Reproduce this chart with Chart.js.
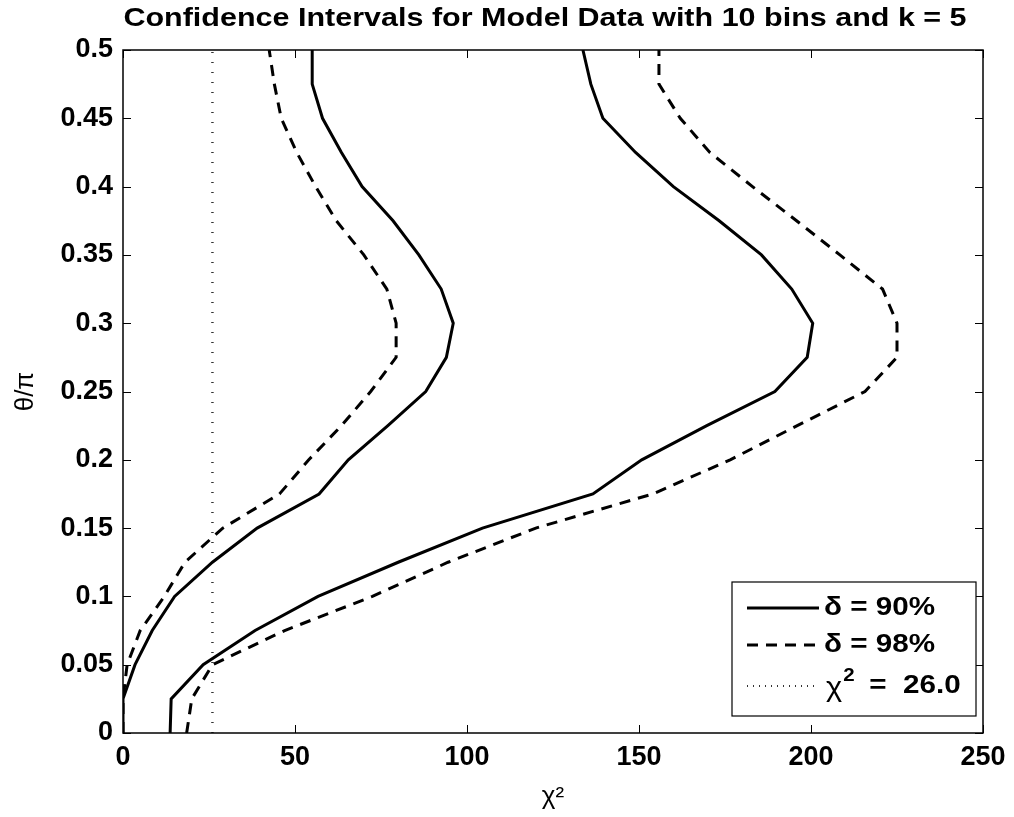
<!DOCTYPE html>
<html>
<head>
<meta charset="utf-8">
<script src="https://cdn.jsdelivr.net/npm/chart.js@4.4.0/dist/chart.umd.min.js"></script>
<style>
  html, body { margin: 0; padding: 0; background: #fff; }
  #wrap { width: 1014px; height: 817px; }
</style>
</head>
<body>
<div id="wrap"><canvas id="myChart" width="1014" height="817"></canvas></div>
<script>
// theta/pi sample points (y) and the chi^2 bounds (x)
var theta = [0, 0.025, 0.05, 0.075, 0.1, 0.125, 0.15, 0.175, 0.2, 0.225, 0.25,
             0.275, 0.3, 0.325, 0.35, 0.375, 0.4, 0.425, 0.45, 0.475, 0.5];
var chi90Low  = [0, 0, 3.5, 8.5, 15, 26, 39, 57, 65.5, 77, 88,
                 94, 96, 92.5, 86, 78.5, 69.5, 63.5, 58, 55, 55];
var chi90High = [13.7, 14, 23.3, 38.4, 56.7, 80, 104.5, 136.6, 150.8, 169.7, 189.5,
                 198.9, 200.5, 194.4, 185.6, 173.3, 160, 149, 139.5, 136, 133.7];
var chi98Low  = [0, 0, 1.2, 5, 12, 18, 29, 45.5, 54, 63.5, 72,
                 79.4, 79.4, 76.7, 70, 62, 56, 50.5, 46, 44, 42.5];
var chi98High = [18.5, 20, 26, 47, 72.5, 94.5, 120, 154, 176.5, 196, 215.7,
                 225, 225, 220.8, 208.4, 195.8, 183, 170.6, 162, 155.8, 155.8];
var chiThreshold = 26.0;
var thetaRange = [0, 0.5];

var titleText = 'Confidence Intervals for Model Data with 10 bins and k = 5';
var legendLabels = ['\u03b4 = 90%', '\u03b4 = 98%', '\u03c7'];
var FONT = '"Liberation Sans", Arial, Helvetica, sans-serif';

function toPoints(xs) {
  return xs.map(function (x, i) { return { x: x, y: theta[i] }; });
}

var solid = { borderColor: '#000', borderWidth: 3, pointRadius: 0, showLine: true, fill: false };
var dashed = { borderColor: '#000', borderWidth: 3, pointRadius: 0, showLine: true, fill: false, borderDash: [11, 8] };

// the figure's text is a bit wider than the font, so stretch it sideways
function wideText(ctx, txt, x, y, sx) {
  ctx.save();
  ctx.translate(x, y);
  ctx.scale(sx, 1);
  ctx.fillText(txt, 0, 0);
  ctx.restore();
  return ctx.measureText(txt).width * sx;
}

// title drawn by hand so it can be stretched like the original
var wideTitle = {
  id: 'wideTitle',
  afterDraw: function (chart) {
    var ctx = chart.ctx;
    ctx.save();
    ctx.fillStyle = '#000';
    ctx.textBaseline = 'middle';
    ctx.font = 'bold 25px ' + FONT;
    var sx = 1.22;
    var w = ctx.measureText(titleText).width * sx;
    wideText(ctx, titleText, 545 - w / 2, 19, sx);
    ctx.restore();
  }
};

// matlab-like box with inward ticks on all four sides
var boxTicks = {
  id: 'boxTicks',
  afterDraw: function (chart) {
    var ctx = chart.ctx, a = chart.chartArea;
    var xs = chart.scales.x, ys = chart.scales.y;
    ctx.save();
    ctx.strokeStyle = '#000';
    ctx.lineWidth = 1;
    ctx.beginPath();
    xs.ticks.forEach(function (t) {
      var px = Math.round(xs.getPixelForValue(t.value)) + 0.5;
      ctx.moveTo(px, a.bottom); ctx.lineTo(px, a.bottom - 8);
      ctx.moveTo(px, a.top); ctx.lineTo(px, a.top + 8);
    });
    ys.ticks.forEach(function (t) {
      var py = Math.round(ys.getPixelForValue(t.value)) + 0.5;
      ctx.moveTo(a.left, py); ctx.lineTo(a.left + 8, py);
      ctx.moveTo(a.right, py); ctx.lineTo(a.right - 8, py);
    });
    ctx.stroke();
    ctx.lineWidth = 1.5;
    ctx.strokeRect(a.left, a.top, a.right - a.left, a.bottom - a.top);
    ctx.restore();
  }
};

// legend box in the lower right corner
var cornerLegend = {
  id: 'cornerLegend',
  afterDraw: function (chart) {
    var ctx = chart.ctx, a = chart.chartArea;
    var w = 244, h = 134;
    var x0 = a.right - 7 - w, y0 = a.bottom - 17 - h;
    ctx.save();
    ctx.fillStyle = '#fff';
    ctx.fillRect(x0, y0, w, h);
    ctx.strokeStyle = '#000';
    ctx.lineWidth = 1.2;
    ctx.strokeRect(x0, y0, w, h);
    var rows = [y0 + 26, y0 + 63, y0 + 104];
    var styles = [[], [11, 8], [1, 5]];
    var widths = [3, 3, 2];
    for (var i = 0; i < 3; i++) {
      ctx.beginPath();
      ctx.setLineDash(styles[i]);
      ctx.lineWidth = widths[i];
      ctx.strokeStyle = i === 2 ? '#333' : '#000';
      ctx.moveTo(x0 + 15, rows[i]);
      ctx.lineTo(x0 + 87, rows[i]);
      ctx.stroke();
    }
    ctx.setLineDash([]);
    ctx.fillStyle = '#000';
    ctx.textBaseline = 'middle';
    var sx = 1.14;
    ctx.font = 'bold 26px ' + FONT;
    wideText(ctx, legendLabels[0], x0 + 92, rows[0], sx);
    wideText(ctx, legendLabels[1], x0 + 92, rows[1], sx);
    ctx.font = '27px ' + FONT;
    var cw = wideText(ctx, legendLabels[2], x0 + 94, rows[2] + 3, sx);
    ctx.font = 'bold 18px ' + FONT;
    wideText(ctx, '2', x0 + 95 + cw, rows[2] - 10, sx);
    ctx.font = 'bold 26px ' + FONT;
    wideText(ctx, '=  ' + chiThreshold.toFixed(1), x0 + 121 + cw, rows[2], sx);
    ctx.restore();
  }
};

var ctx = document.getElementById('myChart').getContext('2d');
var myChart = new Chart(ctx, {
  type: 'scatter',
  data: {
    datasets: [
      Object.assign({ label: 'd90low', data: toPoints(chi90Low) }, solid),
      Object.assign({ label: 'd90high', data: toPoints(chi90High) }, solid),
      Object.assign({ label: 'd98low', data: toPoints(chi98Low) }, dashed),
      Object.assign({ label: 'd98high', data: toPoints(chi98High) }, dashed),
      {
        label: 'threshold',
        data: thetaRange.map(function (t) { return { x: chiThreshold, y: t }; }),
        showLine: true, pointRadius: 0, borderColor: '#333', borderWidth: 2.5,
        borderDash: [1, 9]
      }
    ]
  },
  options: {
    responsive: false,
    animation: false,
    layout: { padding: { left: 0, right: 31, top: 50, bottom: 0 } },
    plugins: {
      legend: { display: false },
      tooltip: { enabled: false },
      title: { display: false }
    },
    scales: {
      x: {
        type: 'linear',
        min: 0, max: 250,
        ticks: { stepSize: 50, color: '#000', padding: 8, font: { family: FONT, size: 27, weight: 'bold' } },
        grid: { display: false, drawTicks: false },
        border: { display: false },
        title: { display: true, text: '\u03c7\u00b2', color: '#000', padding: { top: 2, bottom: 5 }, font: { family: FONT, size: 26 } },
        afterFit: function (s) { s.height = 84; }
      },
      y: {
        type: 'linear',
        min: 0, max: 0.5,
        ticks: {
          stepSize: 0.05, color: '#000', padding: 10,
          font: { family: FONT, size: 27, weight: 'bold' },
          callback: function (v) { return String(+v.toFixed(3)); }
        },
        grid: { display: false, drawTicks: false },
        border: { display: false },
        title: { display: true, text: '\u03b8/\u03c0', color: '#000', padding: { top: 10, bottom: 0 }, font: { family: FONT, size: 26 } },
        afterFit: function (s) { s.width = 123; }
      }
    }
  },
  plugins: [boxTicks, cornerLegend, wideTitle]
});
</script>
</body>
</html>
